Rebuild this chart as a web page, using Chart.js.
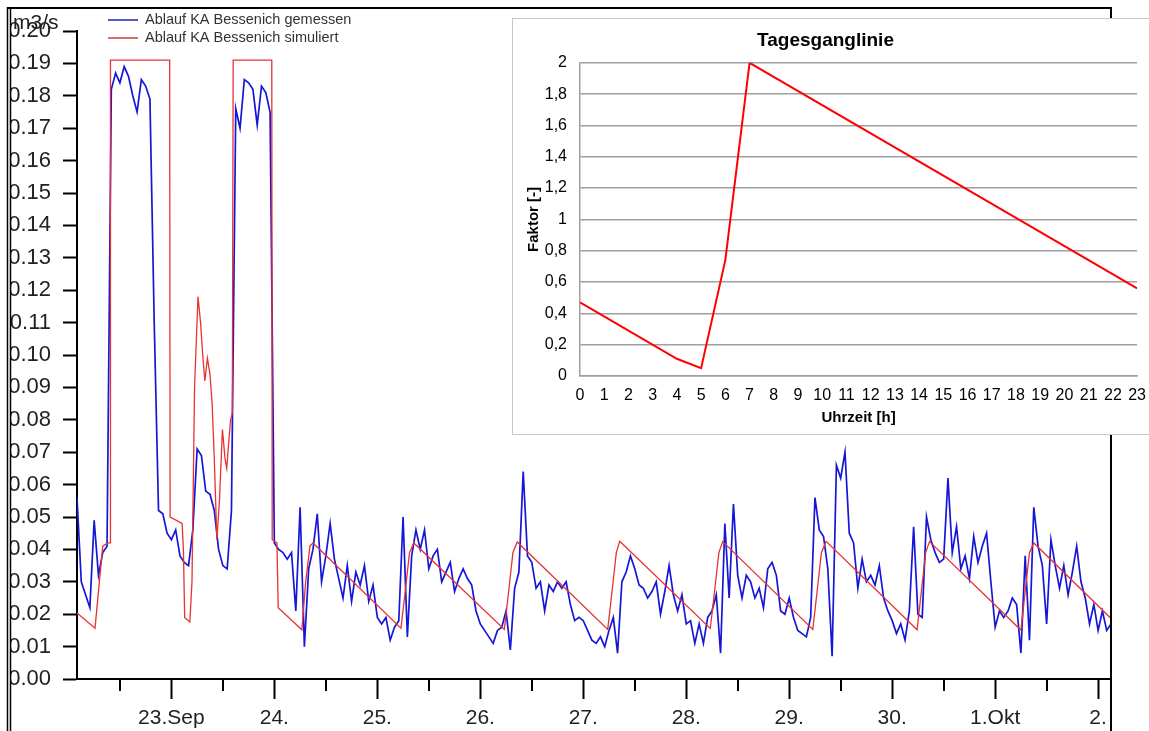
<!DOCTYPE html>
<html><head><meta charset="utf-8">
<script src="https://cdn.jsdelivr.net/npm/chart.js@4.4.1/dist/chart.umd.min.js"></script>
<style>
html,body{margin:0;padding:0;background:#fff;overflow:hidden;}
#wrap{position:relative;width:1149px;height:731px;overflow:hidden;}
#main{position:absolute;left:0;top:0;}
#inset{position:absolute;left:512px;top:18px;width:645px;height:417px;border:1px solid #c8c8c8;background:#fff;box-sizing:border-box;}
#insetCanvas{position:absolute;left:0;top:0;}
</style></head><body>
<div id="wrap">
<canvas id="main" width="1149" height="731"></canvas>
<div id="inset"><canvas id="insetCanvas" width="643" height="415"></canvas></div>
</div>
<script>
// ---------- main chart data (hours since 22 Sep 00:00) ----------
const unitLabel = 'm3/s';
const seriesNames = ['Ablauf KA Bessenich gemessen', 'Ablauf KA Bessenich simuliert'];
const dayTickHours = [24, 48, 72, 96, 120, 144, 168, 192, 216, 240];
const dayLabels = ['23.Sep', '24.', '25.', '26.', '27.', '28.', '29.', '30.', '1.Okt', '2.'];
const halfDayTickHours = [12, 36, 60, 84, 108, 132, 156, 180, 204, 228];

// measured flow, hourly from hour 2
const measuredStartHour = 2;
const measured = [
 0.056,0.030,0.026,0.022,0.049,0.032,0.039,0.041,
 0.182,0.187,0.184,0.189,0.186,0.180,0.175,0.185,0.183,0.179,
 0.110,0.052,0.051,0.045,0.043,0.046,0.038,0.036,0.035,0.046,
 0.071,0.069,0.058,0.057,0.052,0.040,0.035,0.034,0.052,
 0.176,0.170,0.185,0.184,0.182,0.171,0.183,0.181,0.175,
 0.042,0.040,0.039,0.037,0.039,0.021,0.053,0.010,0.034,0.040,
 0.051,0.030,0.038,0.048,0.037,0.031,0.025,0.035,0.024,0.033,
 0.029,0.035,0.024,0.029,0.019,0.017,0.019,0.012,0.016,0.018,
 0.050,0.013,0.038,0.046,0.040,0.046,0.034,0.038,0.040,0.030,
 0.033,0.036,0.027,0.031,0.034,0.031,0.029,0.021,0.017,0.015,
 0.013,0.011,0.015,0.016,0.021,0.009,0.028,0.033,0.064,0.038,
 0.036,0.028,0.030,0.021,0.029,0.027,0.030,0.028,0.030,0.023,
 0.018,0.019,0.018,0.015,0.012,0.011,0.013,0.010,0.015,0.019,
 0.008,0.030,0.033,0.038,0.034,0.029,0.028,0.025,0.027,0.030,
 0.020,0.027,0.035,0.026,0.021,0.026,0.017,0.018,0.011,0.017,
 0.011,0.019,0.021,0.026,0.008,0.048,0.025,0.054,0.032,0.025,
 0.032,0.030,0.025,0.028,0.022,0.034,0.036,0.032,0.021,0.020,
 0.025,0.019,0.015,0.014,0.013,0.019,0.056,0.046,0.044,0.034,
 0.007,0.066,0.062,0.070,0.045,0.042,0.028,0.037,0.030,0.032,
 0.029,0.035,0.025,0.021,0.018,0.014,0.017,0.012,0.021,0.047,
 0.020,0.019,0.050,0.043,0.039,0.036,0.037,0.062,0.039,0.047,
 0.034,0.038,0.031,0.044,0.036,0.041,0.045,0.030,0.016,0.021,
 0.019,0.021,0.025,0.023,0.008,0.038,0.012,0.053,0.041,0.035,
 0.017,0.043,0.035,0.028,0.035,0.026,0.033,0.041,0.030,0.025,
 0.017,0.023,0.015,0.021,0.015,0.017
];

// simulated flow, breakpoints
const simHours = [2, 6.2, 8.0, 9.2, 9.7, 9.8, 23.6, 23.7, 26.5, 26.8, 27.1, 28.3, 28.8, 29.4, 30.2, 30.8, 31.3, 31.8, 32.4, 33.0, 33.5, 34.0, 34.6, 35.2, 35.9, 36.5, 36.9, 37.3, 37.8, 38.2, 38.4, 47.4, 47.5, 48.6, 48.9,
 54.4, 55.3, 56.3, 57.0, 77.5, 78.5, 79.5, 80.5, 101.6, 102.6, 103.6, 104.6, 125.7, 126.7, 127.7, 128.5,
 149.6, 150.6, 151.6, 152.5, 173.5, 174.5, 175.5, 176.6, 197.8, 198.8, 199.8, 200.7, 222.0, 223.0, 224.0, 225.0, 243];
const simValues = [0.0204, 0.0157, 0.041, 0.042, 0.042, 0.191, 0.191, 0.050, 0.048, 0.040, 0.019, 0.0176, 0.030, 0.090, 0.118, 0.110, 0.100, 0.092, 0.099, 0.094, 0.085, 0.068, 0.043, 0.055, 0.077, 0.068, 0.065, 0.072, 0.080, 0.082, 0.191, 0.191, 0.043, 0.042, 0.022,
 0.0152, 0.030, 0.041, 0.042, 0.0157, 0.027, 0.039, 0.042, 0.0153, 0.027, 0.039, 0.0423, 0.0153, 0.027, 0.039, 0.0425,
 0.0156, 0.027, 0.039, 0.0424, 0.0153, 0.027, 0.039, 0.0425, 0.0152, 0.027, 0.039, 0.0424, 0.0151, 0.027, 0.039, 0.042, 0.0187];

// ---------- inset data ----------
const insetTitle = 'Tagesganglinie';
const insetXTitle = 'Uhrzeit [h]';
const insetYTitle = 'Faktor [-]';
const insetHours = [0, 4, 5, 6, 7, 23];
const insetFactor = [0.47, 0.11, 0.05, 0.74, 2.0, 0.56];
const insetYTickLabels = ['0', '0,2', '0,4', '0,6', '0,8', '1', '1,2', '1,4', '1,6', '1,8', '2'];

const FONT = "'Liberation Sans', Arial, sans-serif";

const framePlugin = {
  id: 'frame',
  afterDraw(chart) {
    const ctx = chart.ctx;
    const xs = chart.scales.x;
    ctx.save();
    // minor ticks
    ctx.strokeStyle = '#000';
    ctx.lineWidth = 2;
    halfDayTickHours.forEach(h => {
      const px = Math.round(xs.getPixelForValue(h));
      ctx.beginPath();
      ctx.moveTo(px, xs.top);
      ctx.lineTo(px, xs.top + 12);
      ctx.stroke();
    });
    // mask outside window frame
    ctx.fillStyle = '#fff';
    ctx.fillRect(0, 0, 11, chart.height);
    ctx.fillRect(0, 0, chart.width, 7);
    // frame lines
    ctx.strokeStyle = '#000';
    ctx.lineWidth = 1.5;
    ctx.beginPath(); ctx.moveTo(7.5, 7); ctx.lineTo(7.5, chart.height); ctx.stroke();
    ctx.beginPath(); ctx.moveTo(10.5, 7); ctx.lineTo(10.5, chart.height); ctx.stroke();
    ctx.lineWidth = 2;
    ctx.beginPath(); ctx.moveTo(7, 8); ctx.lineTo(1112, 8); ctx.stroke();
    ctx.beginPath(); ctx.moveTo(1111, 8); ctx.lineTo(1111, chart.height); ctx.stroke();
    // unit
    ctx.fillStyle = '#222';
    ctx.font = '21px ' + FONT;
    ctx.textBaseline = 'alphabetic';
    ctx.textAlign = 'left';
    ctx.fillText(unitLabel, 13, 29);
    // legend
    ctx.font = '14.5px ' + FONT;
    ctx.textBaseline = 'middle';
    chart.data.datasets.forEach((ds, i) => {
      const y = 20 + i * 18;
      ctx.strokeStyle = ds.legendColor;
      ctx.lineWidth = 1.5;
      ctx.beginPath(); ctx.moveTo(108, y); ctx.lineTo(138, y); ctx.stroke();
      ctx.fillStyle = '#333';
      ctx.fillText(ds.label, 145, y);
    });
    ctx.restore();
  }
};

new Chart(document.getElementById('main'), {
  type: 'line',
  data: {
    datasets: [
      { label: seriesNames[0], legendColor: '#2020b0',
        data: measured.map((v, i) => ({ x: measuredStartHour + i, y: v })),
        borderColor: 'rgb(22,22,215)', borderWidth: 1.7, pointRadius: 0, tension: 0, order: 1 },
      { label: seriesNames[1], legendColor: '#d03a3a',
        data: simHours.map((h, i) => ({ x: h, y: simValues[i] })),
        borderColor: 'rgb(232,50,50)', borderWidth: 1.3, pointRadius: 0, tension: 0, order: 0 }
    ]
  },
  options: {
    responsive: false, animation: false, events: [],
    layout: { padding: { left: 0, top: 31, right: 38, bottom: 0 } },
    plugins: { legend: { display: false }, tooltip: { enabled: false } },
    scales: {
      x: {
        type: 'linear', min: 2, max: 243,
        afterBuildTicks: s => { s.ticks = halfDayTickHours.concat(dayTickHours).sort((a, b) => a - b).map(v => ({ value: v })); },
        afterFit: s => { s.height = 52; },
        ticks: { autoSkip: false, maxRotation: 0, padding: 7, color: '#222', font: { family: FONT, size: 21 },
          callback: v => { const k = dayTickHours.indexOf(v); return k >= 0 ? dayLabels[k] : ''; } },
        grid: { drawOnChartArea: false, drawTicks: true, tickLength: 20, tickWidth: 2,
          tickColor: c => (c.tick && dayTickHours.indexOf(c.tick.value) >= 0) ? '#000' : 'rgba(0,0,0,0)' },
        border: { color: '#000', width: 2 }
      },
      y: {
        min: 0, max: 0.2,
        afterFit: s => { s.width = 77; },
        ticks: { stepSize: 0.01, padding: 12, color: '#222', font: { family: FONT, size: 22 },
          callback: v => v.toFixed(2) },
        grid: { drawOnChartArea: false, drawTicks: true, tickLength: 14, tickWidth: 2, tickColor: '#000' },
        border: { color: '#000', width: 2 }
      }
    }
  },
  plugins: [framePlugin]
});

new Chart(document.getElementById('insetCanvas'), {
  type: 'line',
  data: {
    datasets: [{ label: insetTitle,
      data: insetHours.map((h, i) => ({ x: h, y: insetFactor[i] })),
      borderColor: '#ff0000', borderWidth: 2, pointRadius: 0, tension: 0 }]
  },
  options: {
    responsive: false, animation: false, events: [],
    layout: { padding: { left: 0, right: 18, top: 0, bottom: 0 } },
    plugins: {
      legend: { display: false }, tooltip: { enabled: false },
      title: { display: true, text: insetTitle, color: '#000', font: { family: FONT, size: 19, weight: 'bold' }, padding: { top: 10, bottom: 11 } }
    },
    scales: {
      x: {
        type: 'linear', min: 0, max: 23,
        afterFit: s => { s.height = 58; },
        ticks: { stepSize: 1, autoSkip: false, maxRotation: 0, padding: 10, color: '#000', font: { family: FONT, size: 16 } },
        grid: { drawOnChartArea: false, drawTicks: false },
        border: { color: '#a0a0a0', width: 1.5 },
        title: { display: true, text: insetXTitle, color: '#000', font: { family: FONT, size: 15, weight: 'bold' }, padding: { top: 0, bottom: 7 } }
      },
      y: {
        min: 0, max: 2,
        afterFit: s => { s.width = 67; },
        ticks: { stepSize: 0.2, padding: 13, color: '#000', font: { family: FONT, size: 16 },
          callback: (v, i) => insetYTickLabels[i] },
        grid: { color: '#a0a0a0', lineWidth: 1.5, drawTicks: false },
        border: { color: '#a0a0a0', width: 1.5 },
        title: { display: true, text: insetYTitle, color: '#000', font: { family: FONT, size: 15, weight: 'bold' }, padding: { top: 12, bottom: 0 } }
      }
    }
  }
});
</script>
</body></html>
